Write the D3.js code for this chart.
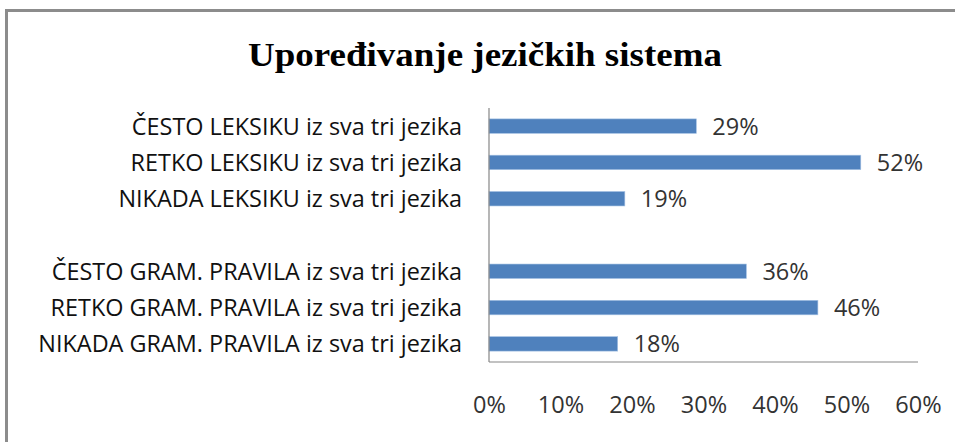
<!DOCTYPE html>
<html><head><meta charset="utf-8">
<script src="https://cdn.jsdelivr.net/npm/d3@7"></script>
<style>body{margin:0;background:#fff;overflow:hidden}svg{display:block}</style>
</head><body>
<svg id="c" width="955" height="442"></svg>
<script>
const title = "Upoređivanje jezičkih sistema";
const categories = [
  "ČESTO LEKSIKU iz sva tri jezika",
  "RETKO LEKSIKU iz sva tri jezika",
  "NIKADA LEKSIKU iz sva tri jezika",
  "",
  "ČESTO GRAM. PRAVILA iz sva tri jezika",
  "RETKO GRAM. PRAVILA iz sva tri jezika",
  "NIKADA GRAM. PRAVILA iz sva tri jezika"
];
const values = [29, 52, 19, null, 36, 46, 18];
const tickValues = [0, 10, 20, 30, 40, 50, 60];

const svg = d3.select("#c");
const m = {left: 489, right: 918, top: 108, bottom: 362};
const sans = "Open Sans, Lato, sans-serif";

// outer frame (only top and left edges are inside the picture)
svg.append("path").attr("d", "M6.5,442V10.5H955").attr("fill", "none")
  .attr("stroke", "#8c8c8c").attr("stroke-width", 3);

const x = d3.scaleLinear().domain([0, 60]).range([m.left, m.right]);
const y = d3.scaleBand().domain(categories.map((c, i) => i)).range([m.top, m.bottom]).paddingInner(0.6).paddingOuter(0.3);

// title
const t = svg.append("text").attr("x", 485).attr("y", 66).attr("text-anchor", "middle")
  .attr("font-family", "Liberation Serif, Times New Roman, serif").attr("font-weight", "bold")
  .attr("font-size", 34).attr("fill", "#000").text(title);
{ const w = t.node().getComputedTextLength(); if (Math.abs(w - 474) > 4) t.attr("textLength", 474).attr("lengthAdjust", "spacingAndGlyphs"); }

// bars
svg.append("g").selectAll("rect").data(values.map((v, i) => ({v, i})).filter(d => d.v != null))
  .join("rect")
  .attr("x", x(0)).attr("y", d => y(d.i)).attr("width", d => x(d.v) - x(0)).attr("height", y.bandwidth())
  .attr("fill", "#4F81BD").attr("stroke", "#a8c4e4").attr("stroke-width", 0.6);

// value labels
svg.append("g").selectAll("text").data(values.map((v, i) => ({v, i})).filter(d => d.v != null))
  .join("text")
  .attr("x", d => x(d.v) + 16).attr("y", d => y(d.i) + y.bandwidth() / 2).attr("dy", "0.36em")
  .attr("font-family", sans).attr("font-size", 23.5).attr("fill", "#333")
  .text(d => d.v + "%");

// category labels
const yc = d3.scaleBand().domain(categories.map((c, i) => i)).range([m.top, m.bottom]);
const cl = svg.append("g").selectAll("text").data(categories.map((c, i) => ({c, i})))
  .join("text")
  .attr("x", 462).attr("y", d => yc(d.i) + yc.bandwidth() / 2).attr("dy", "0.36em")
  .attr("text-anchor", "end").attr("font-family", sans).attr("font-size", 20)
  .attr("fill", "#111").text(d => d.c);
{ // fit size so the longest label spans ~424px like the reference
  let wmax = 0; cl.each(function(){ wmax = Math.max(wmax, this.getComputedTextLength()); });
  if (wmax > 0) cl.attr("font-size", 20 * 424 / wmax);
}

// x axis
const xAxis = d3.axisBottom(x).tickValues(tickValues).tickSize(0).tickPadding(0).tickFormat(d => d + "%");
const gx = svg.append("g").attr("transform", `translate(0,${m.bottom})`).call(xAxis);
gx.select(".domain").attr("stroke", "#868686").attr("stroke-width", 1.2).attr("d", `M${m.left},0H${m.right}`);
gx.selectAll("text").attr("y", 43).attr("dy", "0.36em").attr("font-family", sans)
  .attr("font-size", 23.5).attr("fill", "#333");

// y axis line
svg.append("line").attr("x1", m.left).attr("x2", m.left).attr("y1", m.top).attr("y2", m.bottom)
  .attr("stroke", "#868686").attr("stroke-width", 1.2);
</script>
</body></html>
